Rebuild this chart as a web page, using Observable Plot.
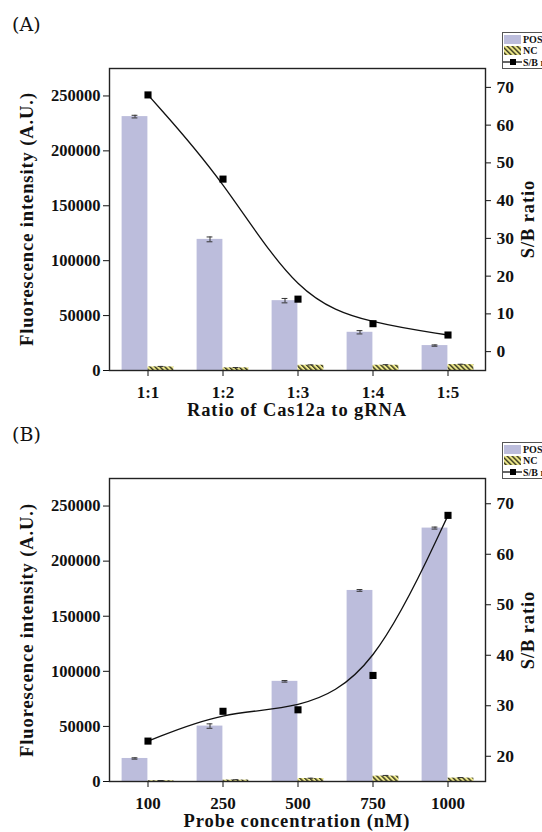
<!DOCTYPE html>
<html><head><meta charset="utf-8">
<script src="https://cdn.jsdelivr.net/npm/d3@7"></script>
<script src="https://cdn.jsdelivr.net/npm/@observablehq/plot@0.6"></script>
<style>
body{margin:0;background:#fff;}
#root{position:relative;width:542px;height:832px;overflow:hidden;background:#fff;font-family:"Liberation Serif","Times New Roman",serif;color:#111;}
.abs{position:absolute;}
.plab{font-family:"DejaVu Serif",serif;font-size:19px;line-height:1;}
.ytitle{font-weight:bold;font-size:18.5px;letter-spacing:0.9px;white-space:nowrap;line-height:1;transform:translate(-50%,-50%) rotate(-90deg);}
.xtitle{font-weight:bold;font-size:18.5px;letter-spacing:0.9px;white-space:nowrap;line-height:1;transform:translate(-50%,0);}
</style></head>
<body>
<svg width="0" height="0" style="position:absolute">
  <defs>
    <pattern id="ncHatch" patternUnits="userSpaceOnUse" width="3.5" height="3.5" patternTransform="rotate(-45)">
      <rect width="3.5" height="3.5" fill="#EEE98A"></rect>
      <rect width="1.4" height="3.5" fill="#33331f"></rect>
    </pattern>
  </defs>
</svg>
<div id="root"></div>
<script>
// ---------- Data ----------
const ratioCats = ["1:1", "1:2", "1:3", "1:4", "1:5"];
const ratioPOS = [231200, 119400, 63600, 34800, 22700];
const ratioPOSErr = [1200, 2200, 2000, 1500, 600];
const ratioNC = [3300, 2400, 4800, 4800, 5400];
const ratioNCErr = [400, 300, 300, 500, 300];
const ratioSB = [68.0, 45.7, 13.9, 7.4, 4.4];

const probeCats = ["100", "250", "500", "750", "1000"];
const probePOS = [20900, 50300, 90900, 173400, 230000];
const probePOSErr = [600, 2000, 700, 800, 900];
const probeNC = [700, 1300, 2700, 4900, 3100];
const probeNCErr = [200, 300, 300, 600, 500];
const probeSB = [23.0, 28.9, 29.2, 36.0, 67.7];

const leftTicks = [0, 50000, 100000, 150000, 200000, 250000];
const rightTicksA = [0, 10, 20, 30, 40, 50, 60, 70];
const rightTicksB = [20, 30, 40, 50, 60, 70];
const legendLabels = ["POS", "NC", "S/B ratio"];

// ---------- Drawing ----------
const root = document.getElementById("root");
const FONT = '"Liberation Serif","Times New Roman",serif';
const W = 542, ML = 109, MR = 57;

function addDiv(cls, text, css) {
  const d = document.createElement("div");
  d.className = "abs " + cls;
  d.textContent = text;
  Object.assign(d.style, css);
  root.appendChild(d);
  return d;
}

function panel(o) {
  const {label, cats, pos, posErr, nc, ncErr, sb, rightDomain, rightTicks, top, height, mt, mb, xTitle} = o;
  const bw = (W - ML - MR) / cats.length;
  const barW = 26;
  const cap = 3;
  const rows = cats.map((c, i) => ({c, pos: pos[i], posErr: posErr[i], nc: nc[i], ncErr: ncErr[i], sb: sb[i]}));
  const common = {
    width: W, height, marginTop: mt, marginBottom: mb, marginLeft: ML, marginRight: MR,
    style: {fontFamily: FONT, fontSize: "16px", fontWeight: "bold", color: "#111", background: "transparent", overflow: "visible"},
    x: {type: "band", domain: cats, padding: 0, axis: null}
  };
  const bars = Plot.plot({
    ...common,
    y: {domain: [0, 275000], axis: null},
    marks: [
      Plot.barY(rows, {x: "c", y: "pos", fill: "#BCBDDC", insetLeft: bw / 2 - barW, insetRight: bw / 2}),
      Plot.barY(rows, {x: "c", y: "nc", fill: "url(#ncHatch)", insetLeft: bw / 2, insetRight: bw / 2 - barW}),
      Plot.ruleX(rows, {x: "c", y1: d => d.pos - d.posErr, y2: d => d.pos + d.posErr, dx: -barW / 2, stroke: "#333", strokeWidth: 1}),
      Plot.tickY(rows, {x: "c", y: d => d.pos + d.posErr, insetLeft: bw / 2 - barW / 2 - cap, insetRight: bw / 2 + barW / 2 - cap, stroke: "#333"}),
      Plot.tickY(rows, {x: "c", y: d => d.pos - d.posErr, insetLeft: bw / 2 - barW / 2 - cap, insetRight: bw / 2 + barW / 2 - cap, stroke: "#333"}),
      Plot.ruleX(rows, {x: "c", y1: d => d.nc - d.ncErr, y2: d => d.nc + d.ncErr, dx: barW / 2, stroke: "#333", strokeWidth: 1}),
      Plot.tickY(rows, {x: "c", y: d => d.nc + d.ncErr, insetLeft: bw / 2 + barW / 2 - cap, insetRight: bw / 2 - barW / 2 - cap, stroke: "#333"}),
      Plot.axisX({tickSize: 6, tickPadding: 9, label: null, fontSize: 17}),
      Plot.axisY({ticks: leftTicks, tickFormat: d3.format("d"), tickSize: 6, tickPadding: 3, label: null, fontSize: 16.5}),
      Plot.frame({stroke: "#222", strokeWidth: 1.4})
    ]
  });
  const line = Plot.plot({
    ...common,
    y: {domain: rightDomain, axis: null},
    marks: [
      Plot.line(rows, {x: "c", y: "sb", curve: "basis", stroke: "#111", strokeWidth: 1.3}),
      Plot.dot(rows, {x: "c", y: "sb", symbol: "square", fill: "#000", stroke: "none", r: 4}),
      Plot.axisY({anchor: "right", ticks: rightTicks, tickSize: 5, tickPadding: 6, label: null, fontSize: 17.5})
    ]
  });
  for (const svg of [bars, line]) {
    svg.style.position = "absolute";
    svg.style.left = "0px";
    svg.style.top = top + "px";
    root.appendChild(svg);
  }
  // texts
  addDiv("plab", label, {left: "12px", top: (top + 15) + "px"});
  const frameTop = top + mt, frameBot = top + height - mb;
  const cy = (frameTop + frameBot) / 2;
  addDiv("ytitle", "Fluorescence intensity (A.U.)", {left: "27px", top: cy + "px"});
  addDiv("ytitle", "S/B ratio", {left: "528px", top: cy + "px"});
  addDiv("xtitle", xTitle, {left: ((ML + W - MR) / 2) + "px", top: (frameBot + 31) + "px"});
  // legend (cropped at the right page edge, as in the reference)
  const lg = d3.create("svg").attr("width", 60).attr("height", 38)
    .style("position", "absolute").style("left", "502px").style("top", (top + 32) + "px");
  lg.append("rect").attr("x", 0.5).attr("y", 0.5).attr("width", 70).attr("height", 36)
    .attr("fill", "#fff").attr("stroke", "#555").attr("stroke-width", 1);
  lg.append("rect").attr("x", 2).attr("y", 3).attr("width", 17).attr("height", 9).attr("fill", "#BCBDDC");
  lg.append("rect").attr("x", 2).attr("y", 14).attr("width", 17).attr("height", 9).attr("fill", "url(#ncHatch)");
  lg.append("line").attr("x1", 1).attr("x2", 20).attr("y1", 30).attr("y2", 30).attr("stroke", "#000").attr("stroke-width", 1.2);
  lg.append("rect").attr("x", 8).attr("y", 27).attr("width", 6).attr("height", 6).attr("fill", "#000");
  const ty = [11, 22, 33.5];
  legendLabels.forEach((t, i) => lg.append("text").attr("x", 21).attr("y", ty[i])
    .attr("font-family", FONT).attr("font-weight", "bold").attr("font-size", 10).attr("fill", "#111").text(t));
  root.appendChild(lg.node());
}

panel({label: "(A)", cats: ratioCats, pos: ratioPOS, posErr: ratioPOSErr, nc: ratioNC, ncErr: ratioNCErr, sb: ratioSB,
  rightDomain: [-5, 75], rightTicks: rightTicksA, top: 0, height: 420, mt: 68, mb: 50, xTitle: "Ratio of Cas12a to gRNA"});
panel({label: "(B)", cats: probeCats, pos: probePOS, posErr: probePOSErr, nc: probeNC, ncErr: probeNCErr, sb: probeSB,
  rightDomain: [15, 75], rightTicks: rightTicksB, top: 410, height: 422, mt: 68, mb: 51, xTitle: "Probe concentration (nM)"});
</script>
</body></html>
